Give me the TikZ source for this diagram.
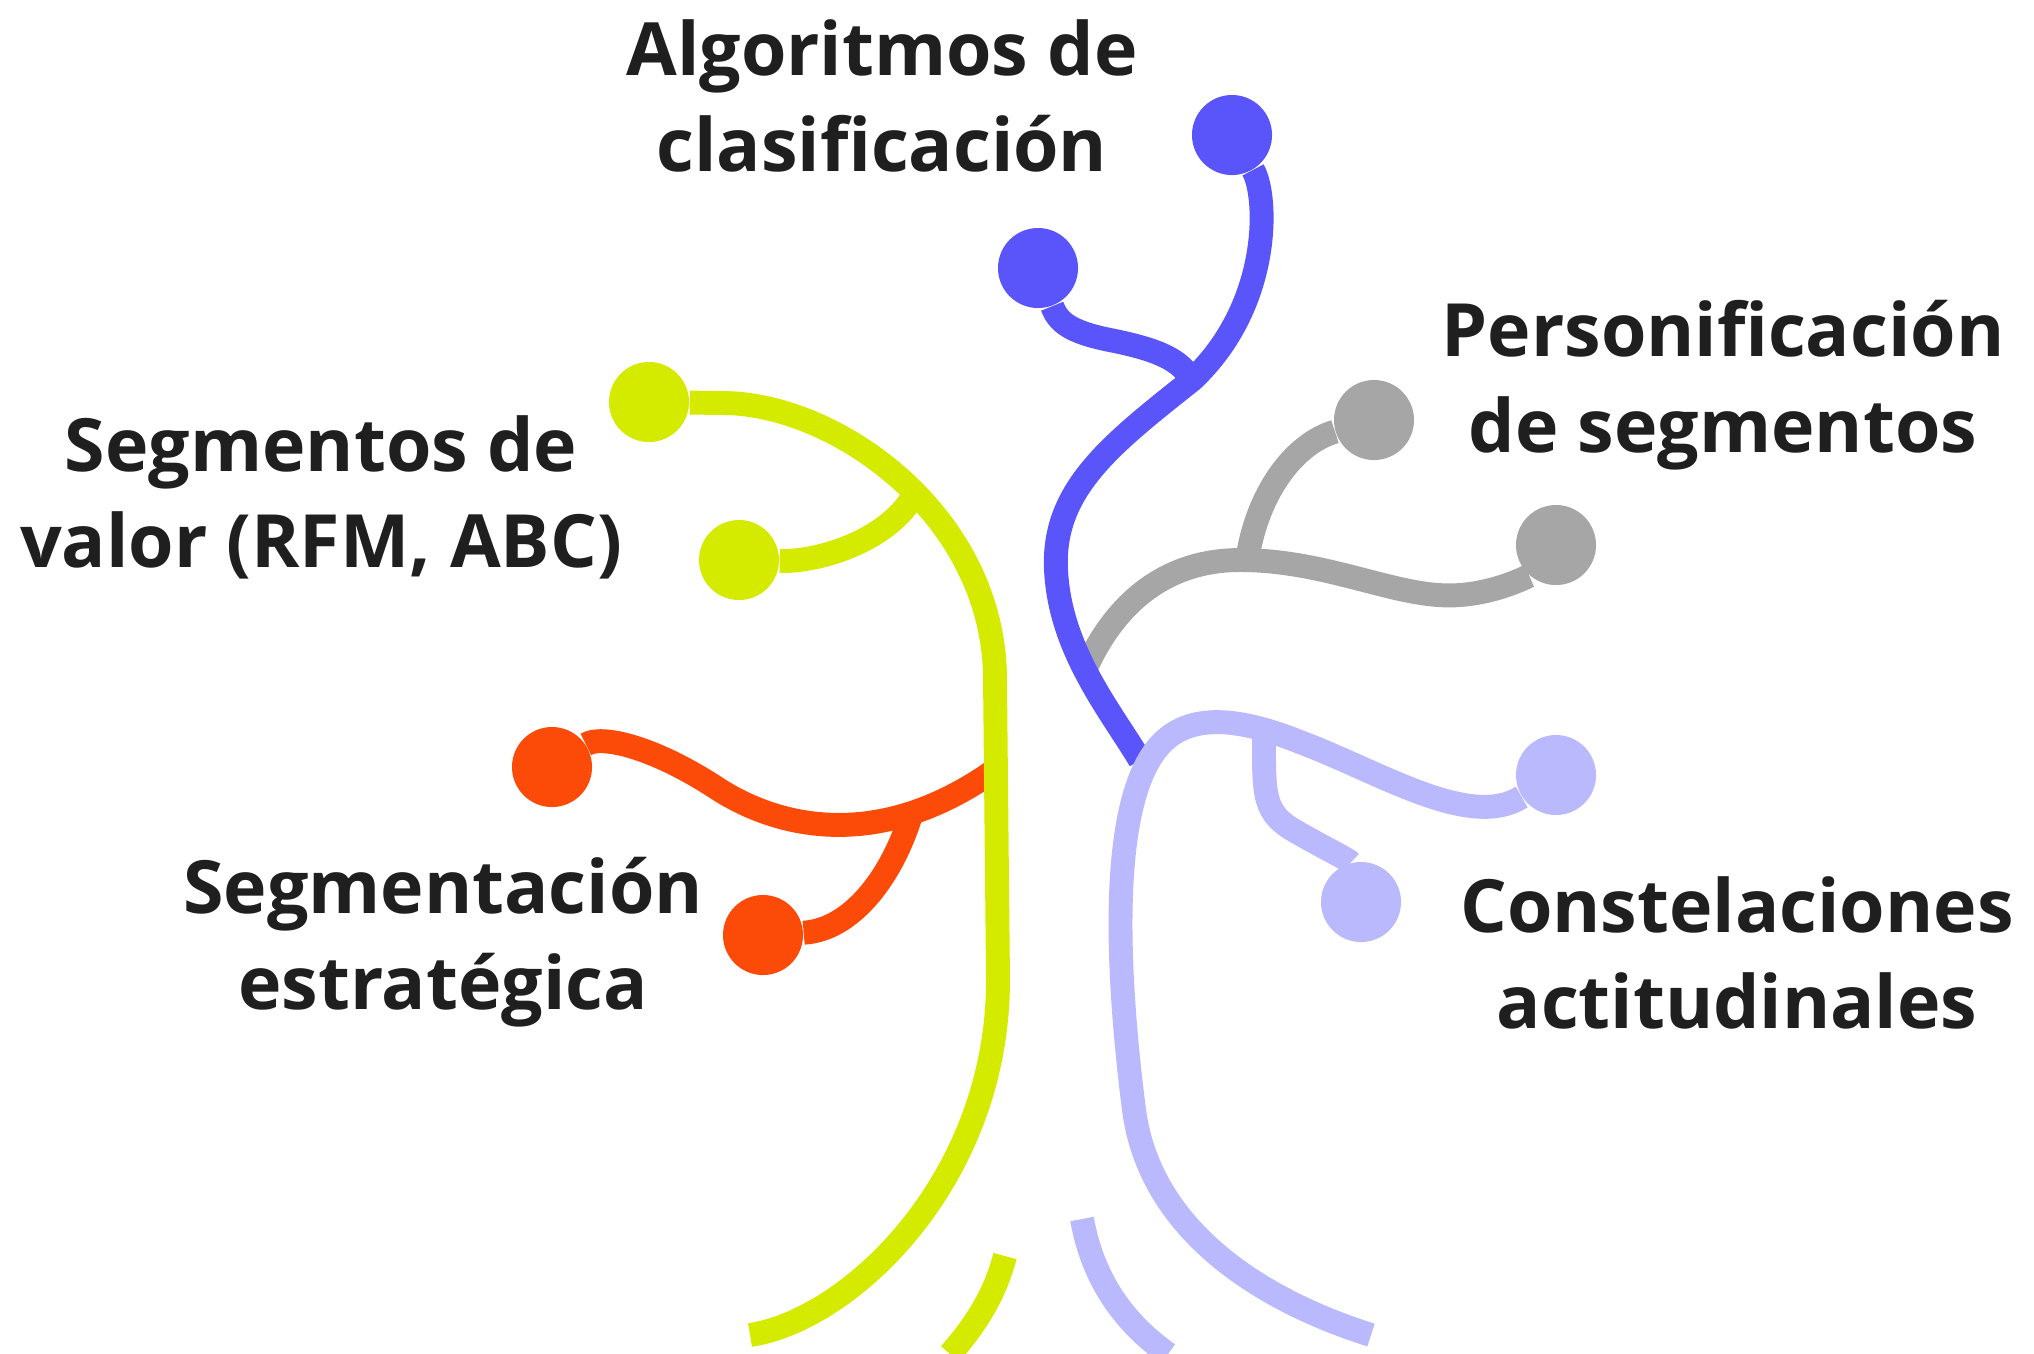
\documentclass[tikz,border=0pt]{standalone}
\usepackage{fontspec}
\setmainfont{Open Sans}
\definecolor{ink}{HTML}{1F1F1F}
\definecolor{cblue}{HTML}{5A55FB}
\definecolor{clime}{HTML}{D4EB00}
\definecolor{cgray}{HTML}{A6A6A6}
\definecolor{corange}{HTML}{FC4A08}
\definecolor{clav}{HTML}{BAB9FD}
\newcommand{\twlw}{6.8pt}

\begin{document}
\begin{tikzpicture}[
  x=0.01cm, y=-0.01cm,
  font=\fontsize{20.9}{27.3}\selectfont\bfseries\color{ink},
  twig/.style={line width=\twlw},
  dot/.style={circle, fill=#1, inner sep=0pt, minimum size=0.8cm},
  lab/.style={align=center},
]
\useasboundingbox (0,0) rectangle (2034,1353);

% ---- Labels -----------------------------------------------------------------
\node[lab] (algo)   at (882,96)   {Algoritmos de\\clasificación};
\node[lab] (perso)  at (1723,385) {Personificación\\de segmentos};
\node[lab] (valor)  at (321,497)  {Segmentos de\\valor (RFM, ABC)};
\node[lab] (estrat) at (443,942)  {Segmentación\\estratégica};
\node[lab] (const)  at (1737,953) {Constelaciones\\actitudinales};

% ---- Dots at the twig tips --------------------------------------------------
\node[dot=cblue]   (bA) at (1232,135) {};
\node[dot=cblue]   (bB) at (1038,268) {};
\node[dot=clime]   (yA) at (649,402)  {};
\node[dot=clime]   (yB) at (739,560)  {};
\node[dot=cgray]   (gA) at (1374,420) {};
\node[dot=cgray]   (gB) at (1556,545) {};
\node[dot=corange] (oA) at (552,767)  {};
\node[dot=corange] (oB) at (763,935)  {};
\node[dot=clav]    (lA) at (1556,775) {};
\node[dot=clav]    (lB) at (1361,902) {};

% junctions and loose ends
\coordinate (jY) at (915,493);
\coordinate (jO) at (910,818);
\coordinate (oEnd) at (992,772);
\coordinate (yEnd) at (750,1335);
\coordinate (yTip) at (1005,1256);
\coordinate (yCut) at (950,1354);
\coordinate (jG) at (1247,562);
\coordinate (gStart) at (1086,668);
\coordinate (jB) at (1192,380);
\coordinate (bEnd) at (1140,760);
\coordinate (jL) at (1264,730);
\coordinate (lEnd) at (1371,1335);
\coordinate (lTip) at (1082,1219);
\coordinate (lCut) at (1168,1354);

% ---- Orange: strategic segmentation -----------------------------------------
\draw[twig, corange] (oA) .. controls (600,735) and (650,745) .. (715,787)
  .. controls (780,830) and (880,850) .. (oEnd);
\draw[twig, corange] (jO) .. controls (890,880) and (850,930) .. (oB);

% ---- Yellow: value segments -------------------------------------------------
\draw[twig, clime] (yA) -- (721,403) .. controls (835,402) and (995,515) .. (995,680)
  -- (998,980) .. controls (998,1180) and (850,1320) .. (yEnd);
\draw[twig, clime] (yB) .. controls (820,562) and (890,540) .. (jY);
\draw[twig, clime] (yTip) .. controls (996,1290) and (980,1320) .. (yCut);

% ---- Grey: personalisation --------------------------------------------------
\draw[twig, cgray] (gStart) .. controls (1112,610) and (1160,560) .. (1240,560)
  .. controls (1330,560) and (1400,600) .. (1460,595)
  .. controls (1500,592) and (1530,575) .. (gB);
\draw[twig, cgray] (jG) .. controls (1255,500) and (1290,445) .. (gA);

% ---- Blue: classification ---------------------------------------------------
\draw[twig, cblue] (bA) .. controls (1268,195) and (1272,305) .. (jB)
  .. controls (1110,445) and (1052,490) .. (1056,570)
  .. controls (1060,650) and (1110,710) .. (bEnd);
\draw[twig, cblue] (bB) .. controls (1058,322) and (1070,332) .. (1110,340)
  .. controls (1160,350) and (1180,360) .. (jB);

% ---- Lavender: attitudes ----------------------------------------------------
\draw[twig, clav] (lEnd) .. controls (1260,1300) and (1150,1230) .. (1134,1110)
  .. controls (1115,960) and (1110,800) .. (1160,745)
  .. controls (1190,712) and (1240,718) .. (1300,742)
  .. controls (1380,772) and (1470,830) .. (lA);
\draw[twig, clav] (jL) .. controls (1264,790) and (1262,810) .. (1290,828)
  .. controls (1320,846) and (1350,860) .. (lB);
\draw[twig, clav] (lTip) .. controls (1092,1275) and (1120,1320) .. (lCut);

\end{tikzpicture}
\end{document}
